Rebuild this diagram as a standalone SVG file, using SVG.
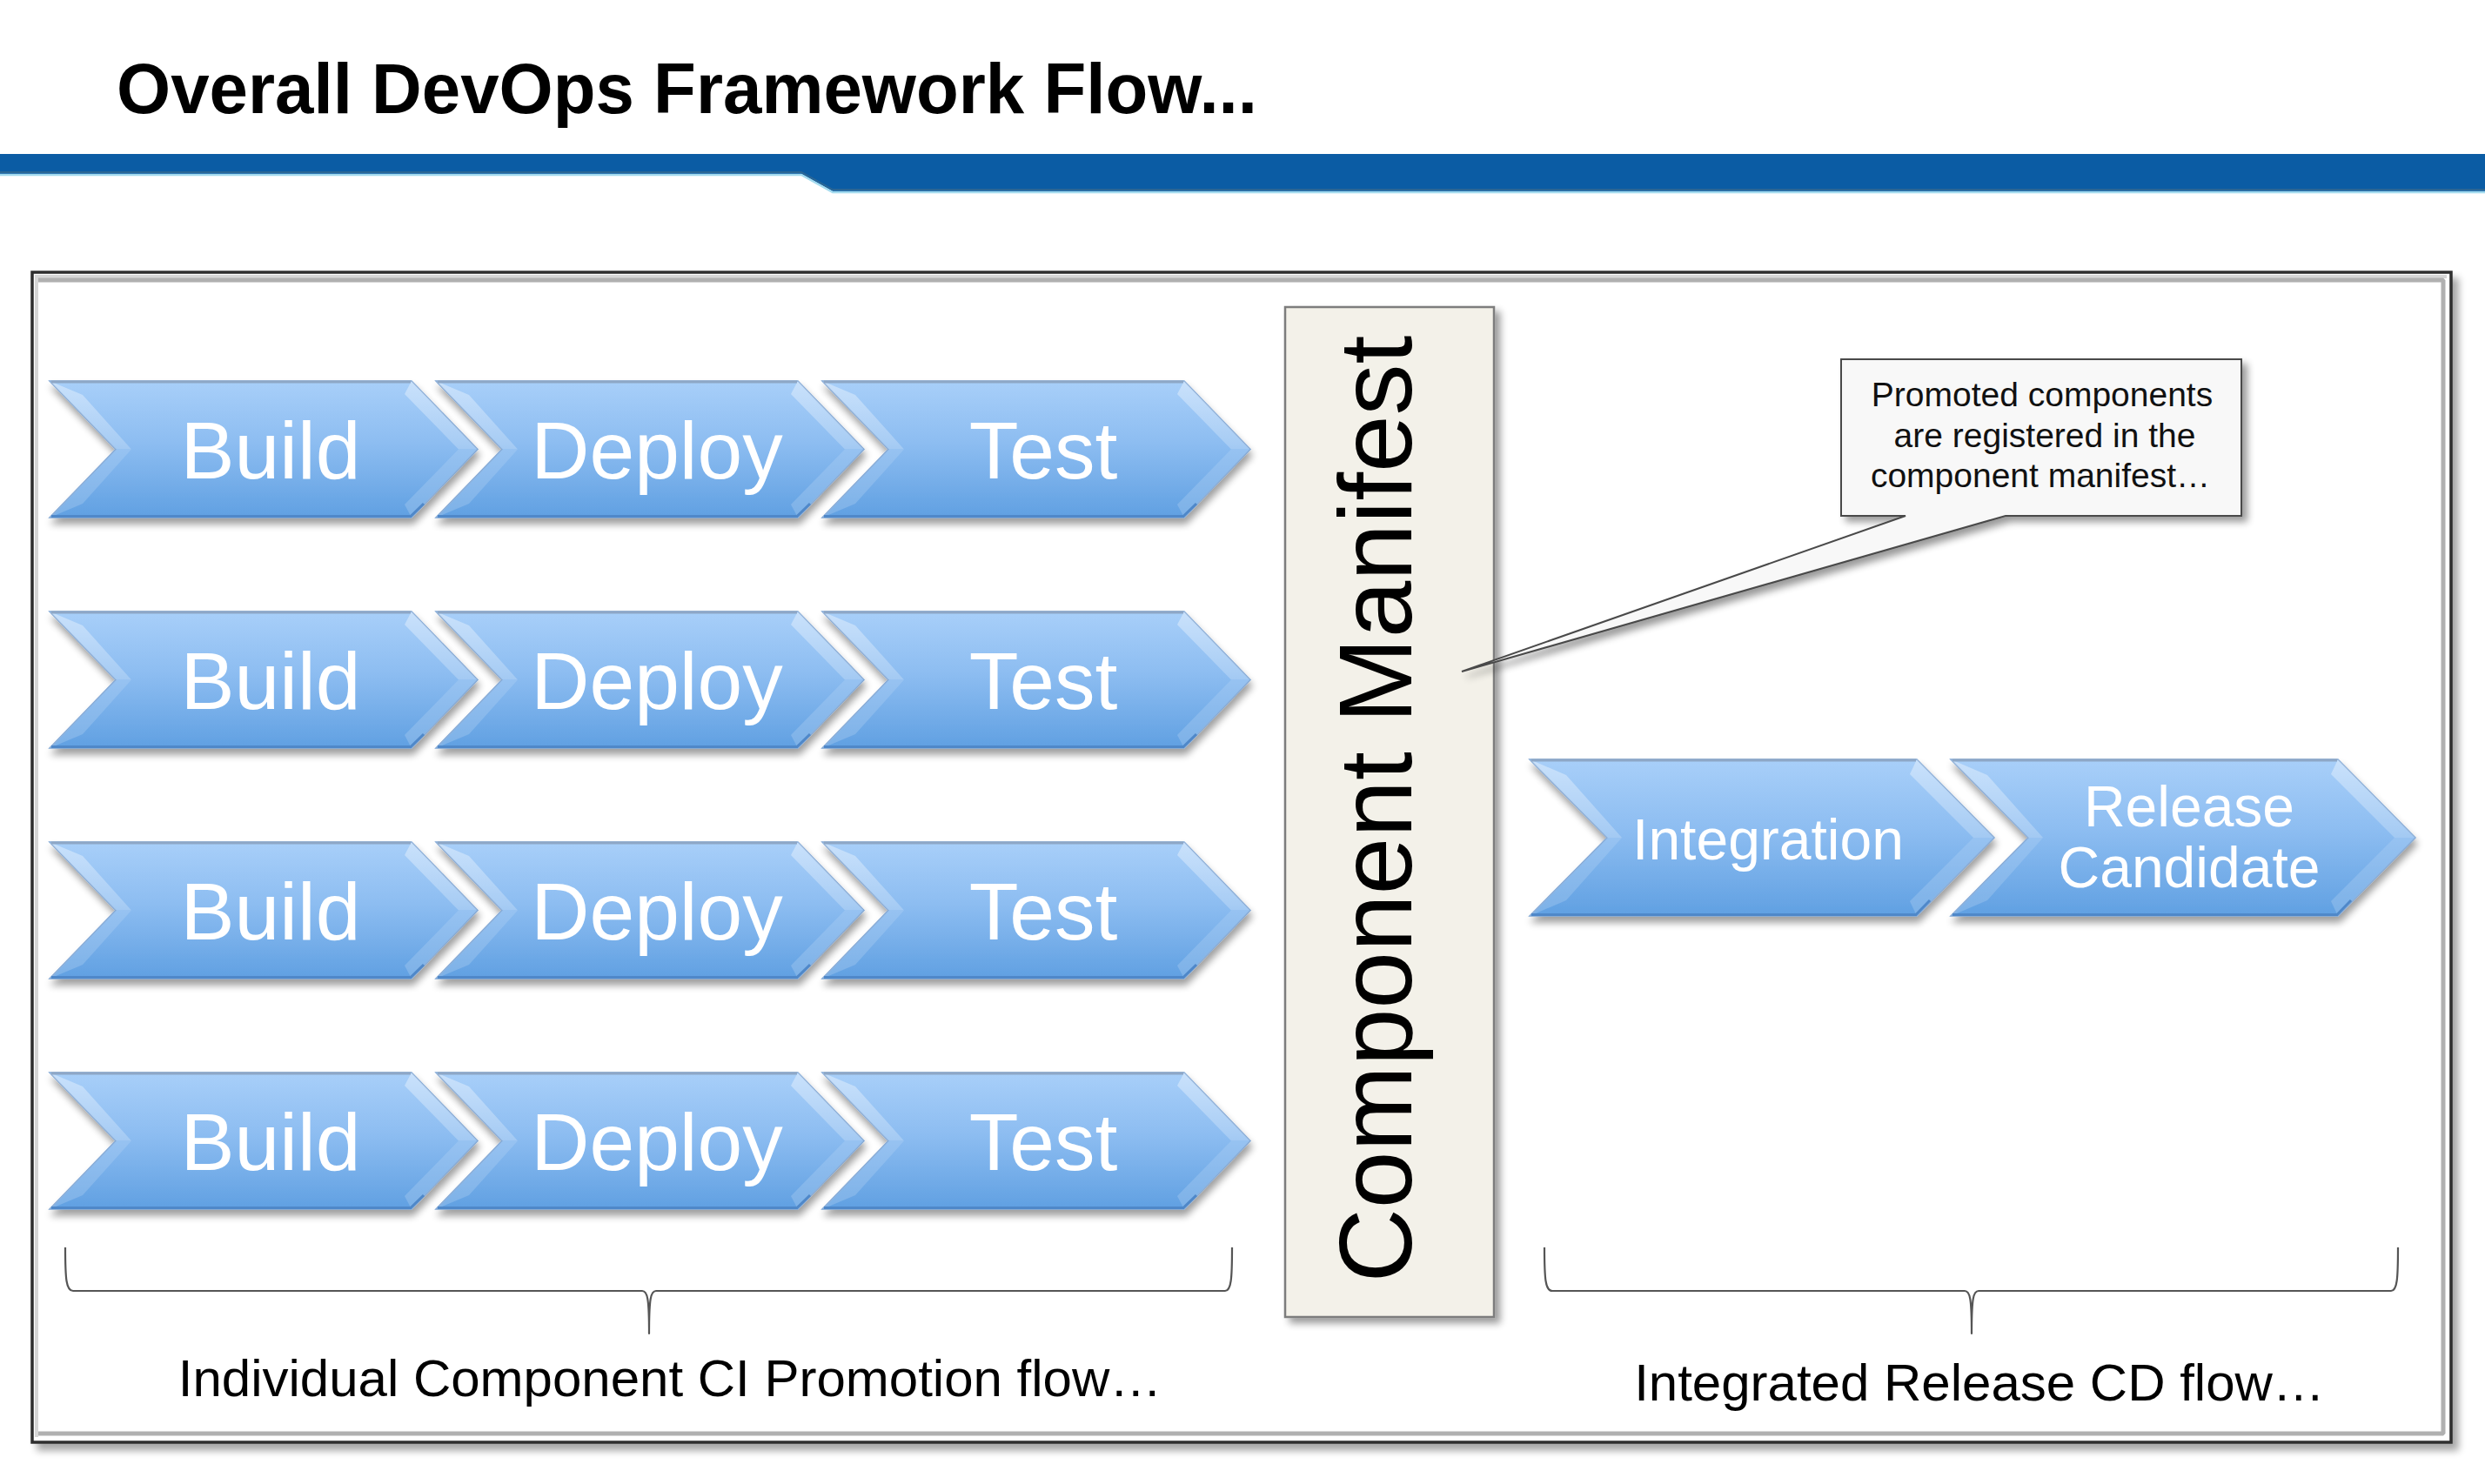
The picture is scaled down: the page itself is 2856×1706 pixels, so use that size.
<svg xmlns="http://www.w3.org/2000/svg" xmlns:xlink="http://www.w3.org/1999/xlink" width="2856" height="1706" viewBox="0 0 2856 1706">
<style>
  .sans { font-family: "Liberation Sans", Arial, Helvetica, sans-serif; }
  .chevText { font-family: "Liberation Sans", Arial, sans-serif; fill: #ffffff; text-anchor: middle; }
  .rowText { font-size: 93px; }
  .cdText { font-size: 66px; }
  .label { font-family: "Liberation Sans", Arial, sans-serif; font-size: 60px; fill: #000; text-anchor: middle; }
  .callText { font-family: "Liberation Sans", Arial, sans-serif; font-size: 39px; fill: #111; text-anchor: middle; }
  .brace { fill: none; stroke: #555; stroke-width: 2.2; stroke-linejoin: round; }
</style>
<defs>
  <linearGradient id="gBody" x1="0" y1="0" x2="0" y2="1">
    <stop offset="0" stop-color="#a8cff9"/>
    <stop offset="0.45" stop-color="#8dbdf1"/>
    <stop offset="1" stop-color="#60a0e2"/>
  </linearGradient>
  <linearGradient id="gBev" x1="0" y1="0" x2="0" y2="1">
    <stop offset="0" stop-color="#ffffff" stop-opacity="0.38"/>
    <stop offset="0.5" stop-color="#ffffff" stop-opacity="0.22"/>
    <stop offset="0.5" stop-color="#ffffff" stop-opacity="0.12"/>
    <stop offset="1" stop-color="#ffffff" stop-opacity="0.18"/>
  </linearGradient>
  <filter id="shChev" x="-5%" y="-10%" width="115%" height="135%">
    <feGaussianBlur in="SourceAlpha" stdDeviation="4"/>
    <feOffset dx="2" dy="7" result="b"/>
    <feComponentTransfer><feFuncA type="linear" slope="0.38"/></feComponentTransfer>
    <feMerge><feMergeNode/><feMergeNode in="SourceGraphic"/></feMerge>
  </filter>
  <filter id="shBox" x="-10%" y="-5%" width="125%" height="115%">
    <feGaussianBlur in="SourceAlpha" stdDeviation="4"/>
    <feOffset dx="6" dy="6" result="b"/>
    <feComponentTransfer><feFuncA type="linear" slope="0.4"/></feComponentTransfer>
    <feMerge><feMergeNode/><feMergeNode in="SourceGraphic"/></feMerge>
  </filter>
  <filter id="shFrame" x="-2%" y="-2%" width="104%" height="106%">
    <feGaussianBlur in="SourceAlpha" stdDeviation="4"/>
    <feOffset dx="7" dy="8" result="b"/>
    <feComponentTransfer><feFuncA type="linear" slope="0.35"/></feComponentTransfer>
    <feMerge><feMergeNode/><feMergeNode in="SourceGraphic"/></feMerge>
  </filter>
  <!-- row chevron: w=416, depth=76, h=157 -->
  <g id="chevA">
    <path d="M0,0 H416 L492,78.5 L416,157 H0 L76,78.5 Z" fill="url(#gBody)" stroke="#7ea5d4" stroke-width="1.5" filter="url(#shChev)"/>
    <path d="M0,0 L76,78.5 L0,157 L38,141 L94,78.5 L38,16 Z" fill="url(#gBev)"/>
    <path d="M416,0 L492,78.5 L416,157 L408,142 L470,78.5 L408,15 Z" fill="url(#gBev)"/>
    <path d="M2,1 H415" stroke="#8ea7c6" stroke-width="3"/>
    <path d="M2,155.5 H415 L430,141" stroke="#4f88c9" stroke-width="3" fill="none"/>
  </g>
  <!-- CD chevron: w=445, depth=89, h=180 -->
  <g id="chevB">
    <path d="M0,0 H445 L534,90 L445,180 H0 L89,90 Z" fill="url(#gBody)" stroke="#7ea5d4" stroke-width="1.5" filter="url(#shChev)"/>
    <path d="M0,0 L89,90 L0,180 L42,162 L106,90 L42,18 Z" fill="url(#gBev)"/>
    <path d="M445,0 L534,90 L445,180 L437,163 L510,90 L437,17 Z" fill="url(#gBev)"/>
    <path d="M2,1 H444" stroke="#8ea7c6" stroke-width="3"/>
    <path d="M2,178.5 H444 L460,162" stroke="#4f88c9" stroke-width="3" fill="none"/>
  </g>
</defs>

<rect x="0" y="0" width="2856" height="1706" fill="#ffffff"/>

<!-- header -->
<g id="header">
  <text x="134" y="130" class="sans" font-size="82" font-weight="bold" fill="#000" textLength="1311" lengthAdjust="spacingAndGlyphs">Overall DevOps Framework Flow...</text>
  <path d="M0,177 H2856 V220 H957 L921,200 H0 Z" fill="#0b5ca4"/>
  <path d="M0,201 H921 L957,221 H2856" fill="none" stroke="#a4dbef" stroke-width="2.5"/>
  <path d="M0,198 H921 L957,218 H2856" fill="none" stroke="#2c6694" stroke-width="2"/>
</g>

<!-- outer frame -->
<g id="frame">
  <rect x="37" y="313" width="2780" height="1345" fill="#ffffff" stroke="#2e2e2e" stroke-width="3.5" filter="url(#shFrame)"/>
  <path d="M42,1652 V318 H2812" fill="none" stroke="#d6d6d6" stroke-width="4"/>
  <path d="M44,322 H2808 V1648 H44" fill="none" stroke="#b0b0b0" stroke-width="5" stroke-linejoin="bevel"/>
</g>

<!-- CI rows -->
<g id="build1" transform="translate(57,438)"><use href="#chevA"/><text class="chevText rowText" x="254" y="112">Build</text></g>
<g id="deploy1" transform="translate(501,438)"><use href="#chevA"/><text class="chevText rowText" x="254" y="112">Deploy</text></g>
<g id="test1" transform="translate(945,438)"><use href="#chevA"/><text class="chevText rowText" x="254" y="112">Test</text></g>

<g id="build2" transform="translate(57,703)"><use href="#chevA"/><text class="chevText rowText" x="254" y="112">Build</text></g>
<g id="deploy2" transform="translate(501,703)"><use href="#chevA"/><text class="chevText rowText" x="254" y="112">Deploy</text></g>
<g id="test2" transform="translate(945,703)"><use href="#chevA"/><text class="chevText rowText" x="254" y="112">Test</text></g>

<g id="build3" transform="translate(57,968)"><use href="#chevA"/><text class="chevText rowText" x="254" y="112">Build</text></g>
<g id="deploy3" transform="translate(501,968)"><use href="#chevA"/><text class="chevText rowText" x="254" y="112">Deploy</text></g>
<g id="test3" transform="translate(945,968)"><use href="#chevA"/><text class="chevText rowText" x="254" y="112">Test</text></g>

<g id="build4" transform="translate(57,1233)"><use href="#chevA"/><text class="chevText rowText" x="254" y="112">Build</text></g>
<g id="deploy4" transform="translate(501,1233)"><use href="#chevA"/><text class="chevText rowText" x="254" y="112">Deploy</text></g>
<g id="test4" transform="translate(945,1233)"><use href="#chevA"/><text class="chevText rowText" x="254" y="112">Test</text></g>

<!-- Component Manifest -->
<g id="manifest">
  <rect x="1477" y="353" width="240" height="1161" fill="#f3f1e9" stroke="#7d7d7d" stroke-width="2.5" filter="url(#shBox)"/>
  <text class="sans" font-size="118" fill="#000" text-anchor="middle" transform="translate(1622,930) rotate(-90)">Component Manifest</text>
</g>

<!-- callout -->
<g id="callout">
  <path d="M2116,413 H2576 V593 H2305 L1680,772 L2190,593 H2116 Z" fill="#f8f8f8" stroke="#4a4a4a" stroke-width="2" stroke-linejoin="miter" filter="url(#shBox)"/>
  <text class="callText" x="2347" y="467">Promoted components</text>
  <text class="callText" x="2350" y="514">are registered in the</text>
  <text class="callText" x="2345" y="560">component manifest…</text>
</g>

<!-- CD flow -->
<g id="integration" transform="translate(1758,873)"><use href="#chevB"/><text class="chevText cdText" x="274" y="115">Integration</text></g>
<g id="release" transform="translate(2242,873)"><use href="#chevB"/><text class="chevText cdText" x="274" y="77">Release</text><text class="chevText cdText" x="274" y="147">Candidate</text></g>

<!-- connectors: braces -->
<g id="connectors">
  <path class="brace" d="M75,1434 C75,1470 76,1484 84,1484 L738,1484 C744,1484 746,1492 746,1533 C746,1492 748,1484 754,1484 L1408,1484 C1415,1484 1416,1470 1416,1434"/>
  <path class="brace" d="M1775,1434 C1775,1470 1776,1484 1784,1484 L2258,1484 C2264,1484 2266,1492 2266,1533 C2266,1492 2268,1484 2274,1484 L2748,1484 C2755,1484 2756,1470 2756,1434"/>
</g>

<g id="labels">
  <text class="label" x="770" y="1605">Individual Component CI Promotion flow…</text>
  <text class="label" x="2275" y="1610">Integrated Release CD flow…</text>
</g>
</svg>
